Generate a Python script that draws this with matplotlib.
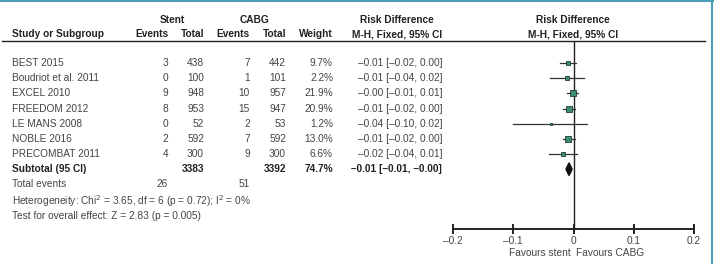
import numpy as np
import matplotlib
matplotlib.use('Agg')
import matplotlib.pyplot as plt
from matplotlib.lines import Line2D

plt.rcParams['font.family'] = ['Liberation Sans Narrow', 'Liberation Sans', 'DejaVu Sans']

# data
studies = ['BEST 2015', 'Boudriot et al. 2011', 'EXCEL 2010', 'FREEDOM 2012',
           'LE MANS 2008', 'NOBLE 2016', 'PRECOMBAT 2011']
stent_events = [3, 0, 9, 8, 0, 2, 4]
stent_total = [438, 100, 948, 953, 52, 592, 300]
cabg_events = [7, 1, 10, 15, 2, 7, 9]
cabg_total = [442, 101, 957, 947, 53, 592, 300]
weights = [9.7, 2.2, 21.9, 20.9, 1.2, 13.0, 6.6]
rd = [-0.009, -0.010, -0.001, -0.0074, -0.038, -0.0084, -0.0167]
lo = [-0.023, -0.039, -0.010, -0.017, -0.100, -0.018, -0.040]
hi = [0.004, 0.017, 0.008, 0.003, 0.023, 0.002, 0.006]
rd_text = ['\u20130.01 [\u20130.02, 0.00]', '\u20130.01 [\u20130.04, 0.02]',
           '\u20130.00 [\u20130.01, 0.01]', '\u20130.01 [\u20130.02, 0.00]',
           '\u20130.04 [\u20130.10, 0.02]', '\u20130.01 [\u20130.02, 0.00]',
           '\u20130.02 [\u20130.04, 0.01]']
sub_total = [3383, 3392]
sub_weight = '74.7%'
sub_rd, sub_lo, sub_hi = -0.0074, -0.0125, -0.0023
sub_text = '\u20130.01 [\u20130.01, \u20130.00]'
tot_events = [26, 51]
xticks = [-0.2, -0.1, 0, 0.1, 0.2]
xticklabels = ['\u20130.2', '\u20130.1', '0', '0.1', '0.2']

W, H = 714, 264
fig = plt.figure(figsize=(W/100, H/100), dpi=100)

def px(x, y):
    return x / W, 1 - y / H

txt = '#444444'
hdr = '#222222'
fs = 7.3

def t(x, y, s, ha='left', bold=False, color=None, size=fs):
    if color is None:
        color = hdr if bold else txt
    fig.text(*px(x, y), s, ha=ha, va='center', fontsize=size,
             fontweight='bold' if bold else 'normal', color=color)

# header
t(172, 20, 'Stent', ha='center', bold=True)
t(254, 20, 'CABG', ha='center', bold=True)
t(397, 20, 'Risk Difference', ha='center', bold=True)
t(573, 20, 'Risk Difference', ha='center', bold=True)
t(12, 34.5, 'Study or Subgroup', bold=True)
t(168, 34.5, 'Events', ha='right', bold=True)
t(204, 34.5, 'Total', ha='right', bold=True)
t(250, 34.5, 'Events', ha='right', bold=True)
t(286, 34.5, 'Total', ha='right', bold=True)
t(333, 34.5, 'Weight', ha='right', bold=True)
t(397, 34.5, 'M-H, Fixed, 95% CI', ha='center', bold=True)
t(573, 34.5, 'M-H, Fixed, 95% CI', ha='center', bold=True)

fig.add_artist(Line2D([2/W, 705/W], [1 - 41/H, 1 - 41/H], color='#222222', lw=1.0))

# borders
fig.add_artist(Line2D([0, 1], [1 - 1/H, 1 - 1/H], color='#4a9cb8', lw=1.5))
fig.add_artist(Line2D([711.5/W, 711.5/W], [0, 1], color='#4a9cb8', lw=1.5))

row0, pitch = 63, 15.17
for i, name in enumerate(studies):
    y = row0 + pitch * i
    t(12, y, name)
    t(168, y, str(stent_events[i]), ha='right')
    t(204, y, str(stent_total[i]), ha='right')
    t(250, y, str(cabg_events[i]), ha='right')
    t(286, y, str(cabg_total[i]), ha='right')
    t(333, y, '%.1f%%' % weights[i], ha='right')
    t(442, y, rd_text[i], ha='right')

ys = row0 + pitch * 7
t(12, ys, 'Subtotal (95 CI)', bold=True)
t(204, ys, str(sub_total[0]), ha='right', bold=True)
t(286, ys, str(sub_total[1]), ha='right', bold=True)
t(333, ys, sub_weight, ha='right', bold=True)
t(442, ys, sub_text, ha='right', bold=True)

t(12, 184, 'Total events')
t(168, 184, str(tot_events[0]), ha='right')
t(250, 184, str(tot_events[1]), ha='right')
t(12, 201, 'Heterogeneity: Chi$^2$ = 3.65, df = 6 (p = 0.72); I$^2$ = 0%')
t(12, 216, 'Test for overall effect: Z = 2.83 (p = 0.005)')

# forest axes
x0, x1 = 453, 694
ytop, ybot = 41, 229
ax = fig.add_axes([x0/W, 1 - ybot/H, (x1 - x0)/W, (ybot - ytop)/H])
ax.set_xlim(-0.2, 0.2)
ax.set_ylim((ybot - row0) / pitch, (ytop - row0) / pitch)
ax.patch.set_alpha(0)
for s in ['top', 'right', 'left']:
    ax.spines[s].set_visible(False)
ax.spines['bottom'].set_linewidth(1.4)
ax.spines['bottom'].set_color('#222222')
ax.set_yticks([])
ax.set_xticks(xticks)
ax.set_xticklabels(xticklabels, fontsize=fs, color=txt)
ax.tick_params(axis='x', direction='inout', length=7, width=1.4, color='#222222', pad=1.5)
ax.axvline(0, color='#222222', lw=1.0, zorder=1)

for i in range(len(studies)):
    ax.plot([lo[i], hi[i]], [i, i], color='#333333', lw=0.9, zorder=2)
    ax.plot(rd[i], i, marker='s', ms=1.2 + 0.7 * np.sqrt(weights[i]),
            mfc='#3d8f72', mec='#1f3a30', mew=0.6, zorder=3)

ax.fill([sub_lo, sub_rd, sub_hi, sub_rd], [7, 7 - 0.42, 7, 7 + 0.42],
        color='#111111', zorder=3)

ax.text(-0.004, -0.128, 'Favours stent', transform=ax.get_xaxis_transform(),
        ha='right', va='center', fontsize=fs, color=txt)
ax.text(0.004, -0.128, 'Favours CABG', transform=ax.get_xaxis_transform(),
        ha='left', va='center', fontsize=fs, color=txt)

fig.savefig('out.png', dpi=100)
